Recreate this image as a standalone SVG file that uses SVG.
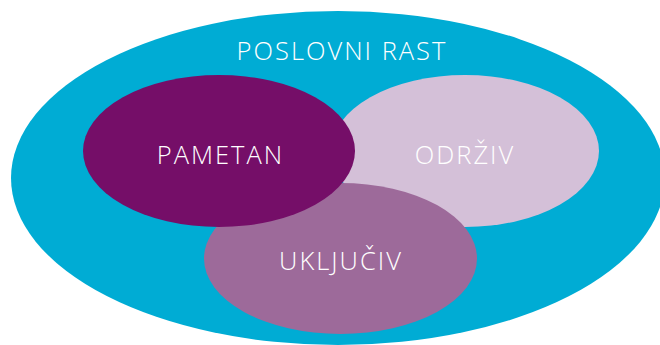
<svg xmlns="http://www.w3.org/2000/svg" width="660" height="345" viewBox="0 0 660 345">
<style>
.lbl{font-family:"Open Sans","Liberation Sans",sans-serif;font-weight:300;font-size:25.5px;letter-spacing:2px;fill:#ffffff;text-anchor:middle}
</style>
<rect width="660" height="345" fill="#ffffff"/>
<g id="poslovni-rast">
<ellipse cx="338" cy="178" rx="327" ry="167" fill="#00ACD4"/>
<text class="lbl" x="342" y="60">POSLOVNI RAST</text>
</g>
<g id="odrziv">
<ellipse cx="465" cy="151" rx="134" ry="76" fill="#D4C0D8"/>
<text class="lbl" x="465" y="164">ODRŽIV</text>
</g>
<g id="ukljuciv">
<ellipse cx="340.5" cy="258.5" rx="136.5" ry="75.5" fill="#9D6A9A"/>
<text class="lbl" x="341" y="270">UKLJUČIV</text>
</g>
<g id="pametan">
<ellipse cx="219" cy="151" rx="136" ry="76" fill="#750E68"/>
<text class="lbl" x="220.5" y="164">PAMETAN</text>
</g>
<g id="connectors"></g>
</svg>
